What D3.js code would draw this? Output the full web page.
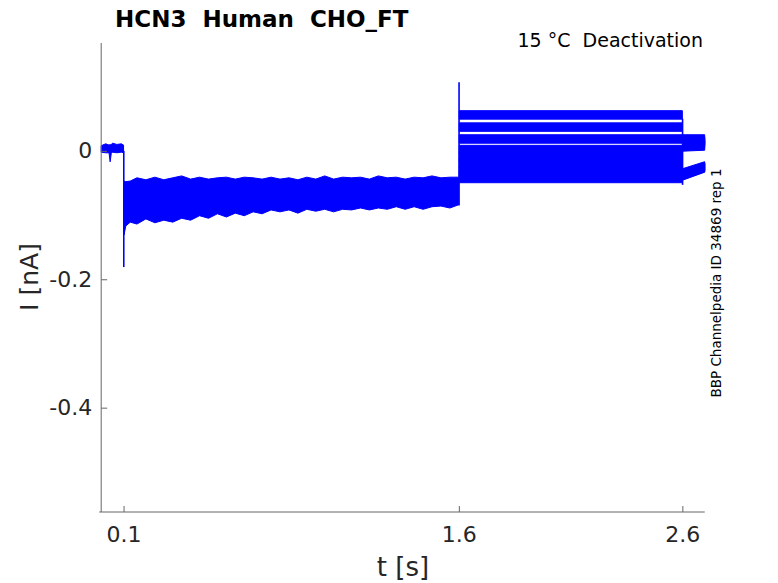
<!DOCTYPE html>
<html>
<head>
<meta charset="utf-8">
<script src="https://cdn.jsdelivr.net/npm/d3@7"></script>
<style>
  body { margin: 0; background: #fff; }
  svg { font-family: "DejaVu Sans", sans-serif; }
  text { white-space: pre; }
</style>
</head>
<body>
<svg id="chart" width="778" height="583"></svg>
<script>
// x ticks / y ticks
const xTicks = [0.1, 1.6, 2.6];
const yTicks = [-0.4, -0.2, 0];

// holding period, 0 - 0.1 s (envelope of all sweeps, nA)
const holdT  = [0, 0.02, 0.035, 0.04, 0.045, 0.05, 0.07, 0.09, 0.1];
const holdHi = [0.008, 0.011, 0.009, 0.010, 0.009, 0.012, 0.010, 0.011, 0.009];
const holdLo = [-0.002, -0.003, -0.003, -0.017, -0.004, -0.002, -0.003, -0.002, -0.003];

// prepulse, 0.1 - 1.6 s, all sweeps overlap (envelope, nA)
const preT  = [0.102, 0.11, 0.13, 0.16, 0.2, 0.24, 0.28, 0.32, 0.36, 0.4, 0.44, 0.48, 0.52, 0.56, 0.6, 0.64, 0.68, 0.72, 0.76, 0.8,
               0.84, 0.88, 0.92, 0.96, 1.0, 1.04, 1.08, 1.12, 1.16, 1.2, 1.24, 1.28, 1.32, 1.36, 1.4, 1.44, 1.48, 1.52, 1.56, 1.599];
const preHi = [-0.047, -0.048, -0.047, -0.042, -0.045, -0.041, -0.045, -0.042, -0.039, -0.044, -0.041, -0.044, -0.042, -0.041, -0.044, -0.041, -0.042, -0.044, -0.041, -0.044,
               -0.042, -0.045, -0.041, -0.044, -0.039, -0.044, -0.041, -0.042, -0.041, -0.044, -0.039, -0.042, -0.041, -0.044, -0.041, -0.042, -0.039, -0.042, -0.041, -0.041];
const preLo = [-0.131, -0.117, -0.111, -0.114, -0.106, -0.112, -0.108, -0.111, -0.105, -0.108, -0.101, -0.105, -0.098, -0.103, -0.097, -0.101, -0.095, -0.098, -0.092, -0.095,
               -0.092, -0.097, -0.091, -0.094, -0.091, -0.095, -0.091, -0.092, -0.089, -0.092, -0.089, -0.091, -0.087, -0.091, -0.087, -0.091, -0.087, -0.086, -0.089, -0.084];

// test steps, 1.6 - 2.6 s, one level per sweep (nA)
const testLevels = [0.056, 0.037, 0.0185, 0.002, -0.0095, -0.0196, -0.0298, -0.0375, -0.043];
// tail, 2.6 - 2.7 s, start and end level per sweep (nA)
const tailStart = [0.0185, 0.0154, 0.0123, 0.0092, 0.0061, -0.0391, -0.0375, -0.036, -0.0344];
const tailEnd   = [0.0185, 0.0154, 0.0139, 0.0107, 0.0076, -0.0266, -0.0259, -0.0251, -0.0235];
const noiseHalf = 0.0066;

// capacitive transients: time, from, to (nA)
const spikeT    = [0.101, 1.601, 2.601];
const spikeFrom = [0.0, -0.085, 0.05];
const spikeTo   = [-0.181, 0.107, -0.053];

const svg = d3.select("#chart");
const x = d3.scaleLinear().domain([0, 2.7]).range([101.2, 704.7]);
const y = d3.scaleLinear().domain([-0.5625, 0.168]).range([512, 43]);

const blue = "#0000ff";
const plot = svg.append("g");

const band = d3.area()
  .x(d => x(d.t))
  .y0(d => y(d.lo))
  .y1(d => y(d.hi));

function drawBand(pts) {
  plot.append("path")
    .datum(pts)
    .attr("d", band)
    .attr("fill", blue)
    .attr("stroke", blue)
    .attr("stroke-width", 1)
    .attr("stroke-linejoin", "miter");
}

drawBand(holdT.map((t, i) => ({ t, hi: holdHi[i], lo: holdLo[i] })));
drawBand(preT.map((t, i) => ({ t, hi: preHi[i], lo: preLo[i] })));

testLevels.forEach((v, i) => {
  drawBand([
    { t: 1.602, hi: v + noiseHalf, lo: v - noiseHalf },
    { t: 2.6,   hi: v + noiseHalf, lo: v - noiseHalf }
  ]);
  drawBand([
    { t: 2.601, hi: tailStart[i] + noiseHalf, lo: tailStart[i] - noiseHalf },
    { t: 2.7,   hi: tailEnd[i] + noiseHalf,   lo: tailEnd[i] - noiseHalf }
  ]);
});

spikeT.forEach((t, i) => {
  plot.append("line")
    .attr("x1", x(t)).attr("x2", x(t))
    .attr("y1", y(spikeFrom[i])).attr("y2", y(spikeTo[i]))
    .attr("stroke", blue)
    .attr("stroke-width", 1.6);
});

// axes
const axisColor = "#666";
const textColor = "#262626";
const fmt = d => d === 0 ? "0" : d3.format(".1f")(d).replace("\u2212", "-");

const xAxis = svg.append("g")
  .attr("transform", `translate(0,${y.range()[0]})`)
  .call(d3.axisBottom(x).tickValues(xTicks).tickSizeInner(-6).tickSizeOuter(0).tickPadding(14).tickFormat(fmt));

const yAxis = svg.append("g")
  .attr("transform", `translate(${x.range()[0]},0)`)
  .call(d3.axisLeft(y).tickValues(yTicks).tickSizeInner(-6).tickSizeOuter(0).tickPadding(9).tickFormat(fmt));

[xAxis, yAxis].forEach(a => {
  a.select(".domain").attr("stroke", axisColor);
  a.selectAll(".tick line").attr("stroke", axisColor);
  a.selectAll(".tick text")
    .attr("fill", textColor)
    .attr("font-size", 22)
    .attr("font-family", "DejaVu Sans, sans-serif");
});
xAxis.select(".domain").attr("d", `M${x.range()[0] - 2},0H${x.range()[1]}`);
yAxis.select(".domain").attr("d", `M0,${y.range()[0]}V${y.range()[1]}`);

svg.append("text")
  .attr("x", 403).attr("y", 576)
  .attr("text-anchor", "middle")
  .attr("font-size", 26)
  .attr("fill", textColor)
  .text("t [s]");

svg.append("text")
  .attr("transform", "translate(38,277) rotate(-90)")
  .attr("text-anchor", "middle")
  .attr("font-size", 25)
  .attr("fill", textColor)
  .text("I [nA]");

svg.append("text")
  .attr("x", 115).attr("y", 27)
  .attr("font-size", 23)
  .attr("font-weight", "bold")
  .attr("fill", "#000")
  .text("HCN3  Human  CHO_FT");

svg.append("text")
  .attr("x", 703).attr("y", 47)
  .attr("text-anchor", "end")
  .attr("font-size", 19)
  .attr("fill", "#000")
  .text("15 °C  Deactivation");

svg.append("text")
  .attr("transform", "translate(721,283) rotate(-90)")
  .attr("text-anchor", "middle")
  .attr("font-size", 13.5)
  .attr("fill", "#000")
  .text("BBP Channelpedia ID 34869 rep 1");
</script>
</body>
</html>
